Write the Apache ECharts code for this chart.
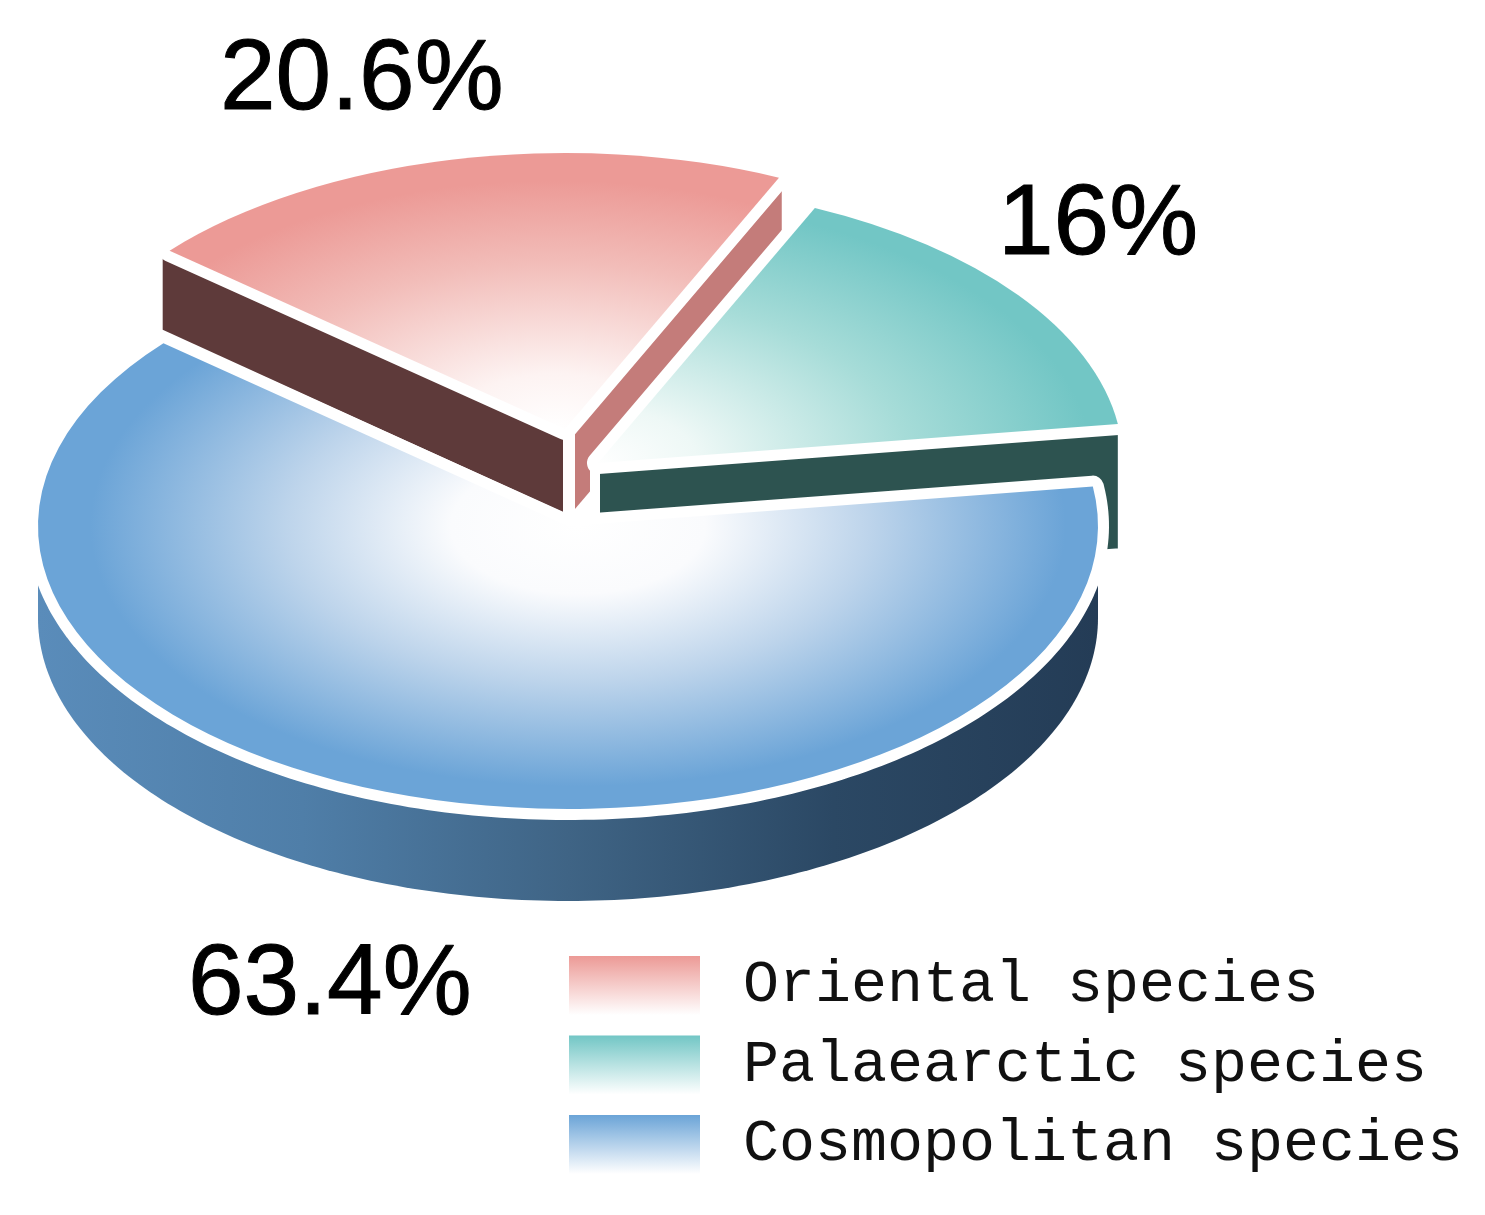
<!DOCTYPE html>
<html>
<head>
<meta charset="utf-8">
<style>html,body{margin:0;padding:0;background:#fff}#chart{width:1485px;height:1215px}</style>
<script src="https://cdn.jsdelivr.net/npm/echarts@6/dist/echarts.min.js"></script>
</head>
<body>
<div id="chart"></div>
<script>
const categories = ['Oriental species', 'Palaearctic species', 'Cosmopolitan species'];
const shares = [20.6, 16, 63.4];
const topColors = ['#ec9a96', '#72c6c5', '#6ba4d7'];

const START_DEG = 8;
const BAND = 22;
const geometry = [
  { cx: 565, cy: 429, rx: 518, ry: 276, depth: 79, gx: -10, gy: 0, stops: [[0, '#fff'], [0.2, '#fdf3f2'], [0.6, '#f2bdb9'], [0.9, '#ec9a96']], lx: 220, ly: 81 },
  { cx: 598, cy: 463, rx: 525, ry: 280, depth: 129, gx: -5, gy: 0, stops: [[0, '#fff'], [0.2, '#eef8f6'], [0.6, '#a6dcd8'], [0.95, '#72c6c5']], lx: 998, ly: 226 },
  { cx: 568, cy: 526, rx: 530, ry: 283, depth: 92, gx: 10, gy: 0, stops: [[0, '#fff'], [0.24, '#fafbfd'], [0.55, '#bdd4eb'], [0.92, '#6ba4d7']], lx: 188, ly: 986 }
];

function sliceAngles(i) {
  const order = [1, 0, 2];
  const total = shares.reduce((a, b) => a + b, 0);
  let a = START_DEG;
  for (const k of order) {
    const span = shares[k] / total * 360;
    if (k === i) return [a, a + span];
    a += span;
  }
}
const rad = d => d * Math.PI / 180;
const pt = (g, d, rx, ry, dy) => [g.cx + (rx || g.rx) * Math.cos(rad(d)), g.cy - (ry || g.ry) * Math.sin(rad(d)) + (dy || 0)];

function arc(g, a0, a1) {
  const pts = [];
  for (let d = a0; d < a1; d += 1) pts.push(pt(g, d));
  pts.push(pt(g, a1));
  return pts;
}

function surface(g, a0, a1, z) {
  const grad = new echarts.graphic.RadialGradient(g.gx, g.gy, g.rx, g.stops.map(s => ({ offset: s[0], color: s[1] })), true);
  return [
    { type: 'polygon', z2: z, shape: { points: [[g.cx, g.cy]].concat(arc(g, a0, a1)) }, style: { fill: '#fff', stroke: '#fff', lineWidth: BAND, lineJoin: 'round' } },
    { type: 'sector', z2: z + 1, x: g.cx, y: g.cy, scaleY: g.ry / g.rx,
      shape: { cx: 0, cy: 0, r0: 0, r: g.rx, startAngle: rad(-a1), endAngle: rad(-a0), clockwise: true },
      style: { fill: grad } }
  ];
}

function extrude(p, q, d) { return [p, q, [q[0], q[1] + d], [p[0], p[1] + d]]; }

function orientalFaces(g, a0, a1) {
  const seamX = g.cx + 4;
  const left = pt(g, a1, 527, g.ry);
  const right = [seamX + 515 * Math.cos(rad(a0)), g.cy - 262 * Math.sin(rad(a0))];
  return [
    { type: 'polygon', z2: 1, shape: { points: extrude(left, [seamX, g.cy + 7], g.depth) }, style: { fill: '#5e3a3a' } },
    { type: 'polygon', z2: 1, shape: { points: extrude([seamX, g.cy + 11], right, g.depth - 3) }, style: { fill: '#c47c7a' } },
    { type: 'line', z2: 2, shape: { x1: seamX, y1: g.cy, x2: seamX, y2: g.cy + g.depth + 10 }, style: { stroke: '#fff', lineWidth: 12 } }
  ];
}

function palaearcticFace(g, a0) {
  const apex = [g.cx - 3, g.cy];
  const corner = [g.cx - 3 + 533 * Math.cos(rad(a0)), g.cy - g.ry * Math.sin(rad(a0))];
  return [
    { type: 'polygon', z2: 3, shape: { points: extrude(apex, corner, g.depth) }, style: { fill: '#2d5350', stroke: '#fff', lineWidth: 10, lineJoin: 'miter' } }
  ];
}

function cosmopolitanSide(g) {
  const pts = [];
  for (let d = 180; d <= 360; d += 1) pts.push(pt(g, d, null, null, g.depth));
  pts.push(pt(g, 0), pt(g, 180));
  const grad = new echarts.graphic.LinearGradient(g.cx - g.rx, 0, g.cx + g.rx, 0, [
    { offset: 0, color: '#5a8cba' }, { offset: 0.25, color: '#4f7ea8' }, { offset: 0.5, color: '#3f6485' },
    { offset: 0.75, color: '#2b4864' }, { offset: 1, color: '#243c56' }
  ], true);
  return [{ type: 'polygon', z2: 7, shape: { points: pts }, style: { fill: grad } }];
}

function percentLabel(g, value) {
  return { type: 'text', z2: 20, style: { x: g.lx, y: g.ly, text: value + '%', font: '100px "Liberation Sans"', fill: '#000', stroke: '#000', lineWidth: 1, align: 'left', verticalAlign: 'middle' } };
}

function render(i) {
  return function (params, api) {
    const value = api.value(0);
    const g = geometry[i];
    const [a0, a1] = sliceAngles(i);
    let children = [];
    if (i === 0) children = orientalFaces(g, a0, a1).concat(surface(g, a0, a1, 10));
    if (i === 1) children = palaearcticFace(g, a0).concat(surface(g, a0, a1, 5));
    if (i === 2) children = cosmopolitanSide(g).concat(surface(g, a0, a1, 8));
    children.push(percentLabel(g, value));
    return { type: 'group', children };
  };
}

const chart = echarts.init(document.getElementById('chart'), null, { renderer: 'canvas' });
chart.setOption({
  animation: false,
  backgroundColor: '#fff',
  legend: {
    left: 569, top: 951, padding: 0, orient: 'vertical', itemWidth: 131, itemHeight: 59, itemGap: 10.5,
    icon: 'rect', selectedMode: false,
    textStyle: { fontFamily: 'Liberation Mono', fontSize: 60, color: '#111', lineHeight: 59, padding: [0, 0, 10, 38] },
    data: categories.map((name, i) => ({
      name,
      itemStyle: { color: new echarts.graphic.LinearGradient(0, 0, 0, 1, [{ offset: 0, color: topColors[i] }, { offset: 1, color: '#fff' }]) }
    }))
  },
  series: categories.map((name, i) => ({
    type: 'custom', name, coordinateSystem: 'none', silent: true,
    data: [[shares[i]]],
    renderItem: render(i)
  }))
});
</script>
</body>
</html>
